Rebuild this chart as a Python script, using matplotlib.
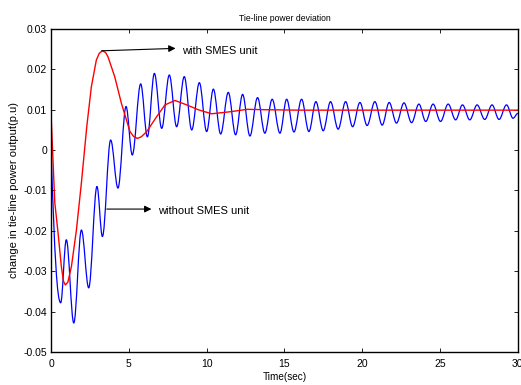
import matplotlib
matplotlib.use("Agg")
import matplotlib.pyplot as plt
from matplotlib.path import Path
from matplotlib.patches import PathPatch

plt.rcParams['font.family'] = ['Liberation Sans', 'DejaVu Sans']

# without SMES unit: start point and turning points
blue_t = [0.0, 0.62, 0.98, 1.46, 1.95, 2.42, 2.95, 3.30, 3.83, 4.30, 4.82, 5.22,
          5.76, 6.19, 6.64, 7.11, 7.60, 8.07, 8.56, 9.04, 9.53, 10.0, 10.43, 10.90,
          11.39, 11.86, 12.31, 12.78, 13.27, 13.74, 14.21, 14.71, 15.14, 15.61, 16.10,
          16.57, 17.02, 17.49, 17.96, 18.45, 18.93, 19.38, 19.85, 20.31, 20.81, 21.28,
          21.73, 22.20, 22.68, 23.17, 23.64, 24.08, 24.55, 25.03, 25.52, 26.00, 26.44,
          26.91, 27.38, 27.87, 28.34, 28.79, 29.27, 29.69, 30.0]
blue_y = [0.0, -0.0378, -0.0222, -0.0428, -0.0198, -0.0341, -0.0090, -0.0214, 0.0025,
          -0.0094, 0.0108, -0.0012, 0.0164, 0.0033, 0.0190, 0.0054, 0.0186, 0.0058,
          0.0182, 0.0050, 0.0167, 0.0046, 0.0151, 0.0040, 0.0143, 0.0038, 0.0138,
          0.0035, 0.0130, 0.0042, 0.0126, 0.0042, 0.0126, 0.0045, 0.0126, 0.0046,
          0.0120, 0.0048, 0.0120, 0.0052, 0.0120, 0.0058, 0.0118, 0.0061, 0.0120,
          0.0062, 0.0118, 0.0067, 0.0117, 0.0068, 0.0114, 0.0071, 0.0114, 0.0071,
          0.0114, 0.0075, 0.0112, 0.0075, 0.0112, 0.0076, 0.0112, 0.0076, 0.0112,
          0.0079, 0.0091]

# with SMES unit
red_t = [0.0, 0.24, 0.45, 0.66, 0.80, 0.92, 1.08, 1.31, 1.63, 1.95, 2.30, 2.59, 2.91,
         3.10, 3.30, 3.50, 3.66, 4.09, 4.52, 5.07, 5.30, 5.54, 5.80, 6.15, 6.79, 7.32,
         7.96, 8.72, 9.46, 10.32, 11.5, 12.6, 13.85, 16.0, 20.0, 25.0, 30.0]
red_y = [0.0087, -0.0130, -0.0205, -0.0288, -0.0325, -0.0334, -0.0327, -0.0288,
         -0.0198, -0.0081, 0.0060, 0.0157, 0.0223, 0.0240, 0.0246, 0.0242, 0.0231,
         0.0182, 0.0116, 0.0046, 0.0034, 0.0029, 0.0033, 0.0046, 0.0083, 0.0112,
         0.0123, 0.0112, 0.0100, 0.0090, 0.0095, 0.0101, 0.0100, 0.0099, 0.0099,
         0.0099, 0.0099]

xticks = [0, 5, 10, 15, 20, 25, 30]
yticks = [-0.05, -0.04, -0.03, -0.02, -0.01, 0, 0.01, 0.02, 0.03]
ytick_labels = ['-0.05', '-0.04', '-0.03', '-0.02', '-0.01', '0', '0.01', '0.02', '0.03']

fig = plt.figure(figsize=(5.21, 3.85), dpi=100)
ax = fig.add_axes([0.098, 0.0857, 0.896, 0.839])

# smooth swing through the turning points (flat tangent at each turning point)
k = 0.36
verts = [(blue_t[0], blue_y[0])]
codes = [Path.MOVETO]
for i in range(1, len(blue_t)):
    t0, y0 = blue_t[i - 1], blue_y[i - 1]
    t1, y1 = blue_t[i], blue_y[i]
    dt = t1 - t0
    if i == 1:
        c1 = (t0 + k * dt, y0 + 0.7 * (y1 - y0))
    else:
        c1 = (t0 + k * dt, y0)
    verts += [c1, (t1 - k * dt, y1), (t1, y1)]
    codes += [Path.CURVE4] * 3
ax.add_patch(PathPatch(Path(verts, codes), facecolor='none', edgecolor='blue', lw=0.9))
ax.plot(blue_t, blue_y, color='blue', lw=0)

ax.plot(red_t, red_y, color='red', lw=1.0)

arrow = dict(arrowstyle='-|>', color='black', lw=0.8, mutation_scale=10, shrinkA=0, shrinkB=0)
ax.annotate('', xy=(8.0, 0.0252), xytext=(3.25, 0.0246), arrowprops=arrow)
ax.text(8.4, 0.0246, 'with SMES unit', fontsize=8, va='center', ha='left')
ax.annotate('', xy=(6.45, -0.0146), xytext=(3.58, -0.0146), arrowprops=arrow)
ax.text(6.9, -0.0150, 'without SMES unit', fontsize=8, va='center', ha='left')

ax.set_xlim(0, 30)
ax.set_ylim(-0.05, 0.03)
ax.set_xticks(xticks)
ax.set_xticklabels([str(x) for x in xticks])
ax.set_yticks(yticks)
ax.set_yticklabels(ytick_labels)
ax.tick_params(direction='in', length=3, width=0.6, labelsize=7.5, top=True, right=True, pad=3)
ax.tick_params(axis='x', pad=5)
for s in ax.spines.values():
    s.set_linewidth(1.0)

ax.set_title('Tie-line power deviation', fontsize=6.2, pad=6)
ax.set_xlabel('Time(sec)', fontsize=7.2, labelpad=2)
ax.set_ylabel('change in tie-line power output(p.u)', fontsize=8, labelpad=3)

fig.savefig('out.png', dpi=100)
